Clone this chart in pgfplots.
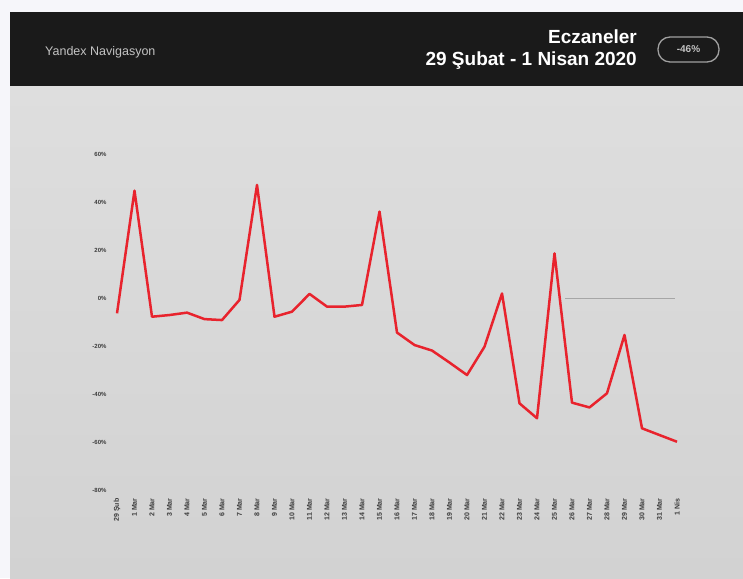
\documentclass[border=0pt]{standalone}
\usepackage{pgfplots}
\pgfplotsset{compat=1.18}
\usepackage{fontspec}
\setmainfont{Liberation Sans}
\definecolor{hdr}{RGB}{26,26,26}
\definecolor{bgtop}{RGB}{222,222,222}
\definecolor{bgbot}{RGB}{210,210,210}
\definecolor{lred}{RGB}{232,35,45}
\definecolor{side}{RGB}{246,246,250}
\definecolor{pill}{RGB}{160,160,160}
\definecolor{tick}{RGB}{60,60,60}
\definecolor{brand}{RGB}{195,195,195}
\begin{document}
\begin{tikzpicture}[x=1pt,y=1pt]
\useasboundingbox (0,0) rectangle (743,578);
\fill[side] (0,0) rectangle (743,578);
\shade[top color=bgtop, bottom color=bgbot] (10,0) rectangle (743,493);
\fill[hdr] (10,492) rectangle (743,566);
\node[anchor=base west, text=brand, font=\fontsize{12.5}{14}\selectfont, inner sep=0pt] at (45,522) {Yandex Navigasyon};
\node[anchor=base east, text=white, font=\fontsize{19}{22}\selectfont\bfseries, inner sep=0pt] at (637,534) {Eczaneler};
\node[anchor=base east, text=white, font=\fontsize{19}{22}\selectfont\bfseries, inner sep=0pt] at (637,512) {29 Şubat - 1 Nisan 2020};
\draw[pill, line width=1.3pt, rounded corners=12pt] (658,516) rectangle (719,541);
\node[text=brand, font=\fontsize{10}{12}\selectfont\bfseries] at (688.5,528.5) {-46\%};
\begin{axis}[
  at={(117pt,88pt)}, anchor=south west,
  scale only axis, width=560pt, height=336pt,
  xmin=0, xmax=32, ymin=-80, ymax=60,
  clip=false,
  axis line style={draw=none},
  tick style={draw=none},
  xtick={0,...,32},
  xticklabels={29 Şub,1 Mar,2 Mar,3 Mar,4 Mar,5 Mar,6 Mar,7 Mar,8 Mar,9 Mar,10 Mar,11 Mar,12 Mar,13 Mar,14 Mar,15 Mar,16 Mar,17 Mar,18 Mar,19 Mar,20 Mar,21 Mar,22 Mar,23 Mar,24 Mar,25 Mar,26 Mar,27 Mar,28 Mar,29 Mar,30 Mar,31 Mar,1 Nis},
  xticklabel style={rotate=90, anchor=east, font=\fontsize{7}{8}\selectfont\bfseries, text=tick, xshift=-5pt},
  ytick={-80,-60,-40,-20,0,20,40,60},
  yticklabels={-80\%,-60\%,-40\%,-20\%,0\%,20\%,40\%,60\%},
  yticklabel style={font=\fontsize{6}{7}\selectfont\bfseries, text=tick, xshift=-7pt},
]
\addplot[gray!70, line width=0.8pt] coordinates {(25.6,0) (31.9,0)};
\addplot[lred, line width=2.5pt, line join=round] coordinates {
(0,-6.4) (1,44.7) (2,-7.8) (3,-7.1) (4,-6.1) (5,-8.8) (6,-9.2) (7,-0.8)
(8,47.1) (9,-7.8) (10,-5.7) (11,1.7) (12,-3.6) (13,-3.6) (14,-2.9) (15,36.0)
(16,-14.4) (17,-19.6) (18,-21.9) (19,-26.9) (20,-32.1) (21,-20.3) (22,1.9)
(23,-43.9) (24,-50.1) (25,18.6) (26,-43.6) (27,-45.6) (28,-39.7) (29,-15.4)
(30,-54.3) (31,-57.1) (32,-59.9)};
\end{axis}
\end{tikzpicture}
\end{document}
